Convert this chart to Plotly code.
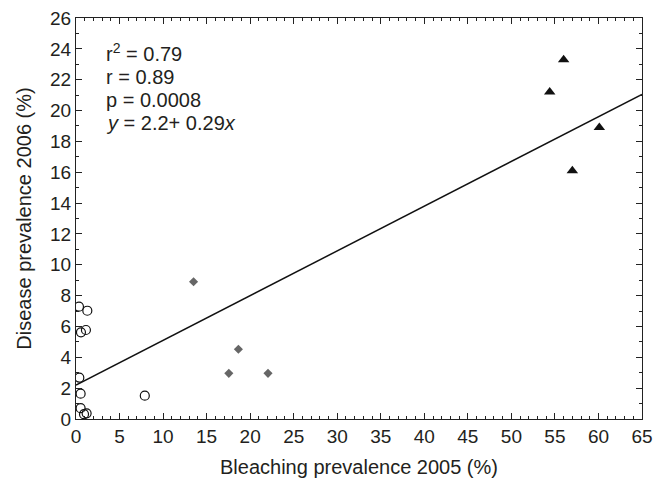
import plotly.graph_objects as go

# Data
circle_x = [0.34, 1.3, 0.57, 1.14, 0.38, 0.53, 0.53, 0.92, 1.22, 7.9]
circle_y = [7.28, 7.02, 5.62, 5.77, 2.68, 1.64, 0.70, 0.31, 0.37, 1.51]

diamond_x = [13.5, 18.65, 17.55, 22.05]
diamond_y = [8.9, 4.52, 2.96, 2.96]

triangle_x = [56.0, 54.4, 60.1, 57.0]
triangle_y = [23.3, 21.2, 18.9, 16.1]

fit_intercept = 2.2
fit_slope = 0.29
fit_x = [0, 65]
fit_y = [fit_intercept + fit_slope * v for v in fit_x]

x_ticks = list(range(0, 66, 5))
y_ticks = list(range(0, 27, 2))

stats_lines = ["r<sup>2</sup> = 0.79", "r = 0.89", "p = 0.0008",
               "<i>y</i> = 2.2+ 0.29<i>x</i>"]

FONT = "Liberation Sans, Arial, Helvetica, sans-serif"
TXT = "#231f20"

fig = go.Figure()
fig.add_trace(go.Scatter(x=fit_x, y=fit_y, mode="lines",
                         line=dict(color="#111111", width=1.5), showlegend=False))
fig.add_trace(go.Scatter(x=circle_x, y=circle_y, mode="markers",
                         marker=dict(symbol="circle-open", size=9,
                                     color="#111111", line=dict(width=1.2)),
                         showlegend=False))
fig.add_trace(go.Scatter(x=diamond_x, y=diamond_y, mode="markers",
                         marker=dict(symbol="diamond", size=7, color="#666666"),
                         showlegend=False))
fig.add_trace(go.Scatter(x=triangle_x, y=triangle_y, mode="markers",
                         marker=dict(symbol="triangle-up", size=10, color="#111111"),
                         showlegend=False))

line_y = [0.915, 0.853, 0.795, 0.737]
for txt, yy in zip(stats_lines, line_y):
    fig.add_annotation(x=0.05, y=yy, xref="paper", yref="paper",
                       xanchor="left", yanchor="middle", align="left",
                       text=txt, showarrow=False,
                       font=dict(family=FONT, size=20, color=TXT))

axis_common = dict(
    showgrid=False, zeroline=False, showline=True, linecolor="#222222",
    linewidth=1.2, mirror="ticks", ticks="inside", ticklen=6, tickwidth=1,
    tickcolor="#222222", tickfont=dict(family=FONT, size=19, color=TXT),
    ticklabeloverflow="allow",
)

fig.update_xaxes(range=[0, 65], tickvals=x_ticks,
                 minor=dict(dtick=1, ticks="inside", ticklen=3, tickcolor="#222222"),
                 title=dict(text="Bleaching prevalence 2005 (%)",
                            font=dict(family=FONT, size=20, color=TXT), standoff=14),
                 **axis_common)
fig.update_yaxes(range=[0, 26], tickvals=y_ticks,
                 minor=dict(dtick=1, ticks="inside", ticklen=3, tickcolor="#222222"),
                 title=dict(text="Disease prevalence 2006 (%)",
                            font=dict(family=FONT, size=20, color=TXT), standoff=12),
                 **axis_common)

fig.update_layout(width=654, height=483,
                  margin=dict(l=76, r=12, t=18, b=64, autoexpand=False),
                  paper_bgcolor="white", plot_bgcolor="white",
                  font=dict(family=FONT, color=TXT))

# remove the default page margin so the figure fills the window exactly
fig.write_html("out.html", config={"displayModeBar": False},
               post_script="document.body.style.margin='0px';")
